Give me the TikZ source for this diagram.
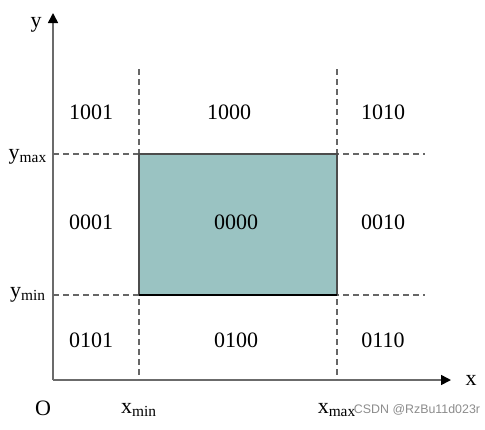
\documentclass[tikz,border=0pt]{standalone}
\usepackage{fontspec}
\setmainfont{Liberation Serif}
\newfontfamily\wmfont{Liberation Sans}
\usetikzlibrary{arrows.meta}
\definecolor{clipfill}{HTML}{9AC3C2}
\definecolor{axisgray}{HTML}{6B6B6B}
\tikzset{
	code/.style={font=\fontsize{11}{13}\selectfont},
	bound/.style={dashed,dash pattern=on 3pt off 2pt,line width=0.7pt,draw=black!60},
	axis/.style={line width=0.8pt,draw=axisgray,-{Triangle[length=5pt,width=5pt,fill=black,color=black]}}
}

\begin{document}
\begin{tikzpicture}[x=0.5pt,y=-0.5pt]
	\useasboundingbox (0,0) rectangle (485,429);
	% axes
	\coordinate (O) at (53,380);
	\coordinate (xend) at (451,380);
	\coordinate (yend) at (53,13);
	\draw[axis] (O) -- (xend);
	\draw[axis] (O) -- (yend);
	\node[code] (xlab) at (471,380) {x};
	\node[code] (ylab) at (36,25) {y};
	\node[code] (olab) at (43,408) {O};
	% clipping window fill
	\fill[clipfill] (139,154) rectangle (337,295);
	% boundary lines
	\coordinate (xmintop) at (139,69);
	\coordinate (xminbot) at (139,380);
	\coordinate (xmaxtop) at (337,69);
	\coordinate (xmaxbot) at (337,380);
	\coordinate (ymaxleft) at (53,154);
	\coordinate (ymaxright) at (425,154);
	\coordinate (yminleft) at (53,295);
	\coordinate (yminright) at (425,295);
	\draw[bound] (xmintop) -- (xminbot);
	\draw[bound] (xmaxtop) -- (xmaxbot);
	\draw[bound] (ymaxleft) -- (ymaxright);
	\draw[bound] (yminleft) -- (yminright);
	% clipping window border on top
	\draw[line width=0.7pt,draw=black!70] (139,295) -- (139,154) -- (337,154) -- (337,295);
	\draw[line width=0.7pt,draw=black] (139,295) -- (337,295);
	\node[code] (ymax) at (28,157) {y\textsubscript{max}};
	\node[code] (ymin) at (28,295) {y\textsubscript{min}};
	\node[code] (xmin) at (139,410) {x\textsubscript{min}};
	\node[code] (xmax) at (337,410) {x\textsubscript{max}};
	% region codes
	\node[code] (c1001) at (91,112) {1001};
	\node[code] (c1000) at (229,112) {1000};
	\node[code] (c1010) at (383,112) {1010};
	\node[code] (c0001) at (91,222) {0001};
	\node[code] (c0000) at (236,222) {0000};
	\node[code] (c0010) at (383,222) {0010};
	\node[code] (c0101) at (91,340) {0101};
	\node[code] (c0100) at (236,340) {0100};
	\node[code] (c0110) at (383,340) {0110};
	\node[font=\wmfont\fontsize{6.2}{8}\selectfont,text=black!45] (mark) at (417,410) {CSDN @RzBu11d023r};
\end{tikzpicture}
\end{document}
